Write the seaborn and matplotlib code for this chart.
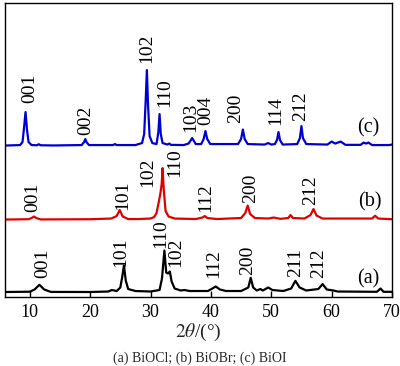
import numpy as np
import pandas as pd
import matplotlib
matplotlib.use("Agg")
import matplotlib.pyplot as plt
import seaborn as sns

# --- XRD patterns (2theta in deg, intensity in a.u. above each baseline) ---
a_2theta = [5.9, 10.0, 10.8, 11.6, 12.4, 13.5, 20.0, 23.0, 23.6, 24.4, 25.0, 25.3, 25.6, 25.9, 26.3,
            27.5, 30.0, 31.5, 31.9, 32.3, 32.6, 32.9, 33.2, 33.5, 34.0, 35.0, 35.6, 36.5, 39.5, 40.1,
            40.8, 41.5, 42.5, 45.0, 46.2, 46.6, 47.0, 47.6, 48.2, 48.6, 49.5, 50.2, 52.0, 53.3, 54.0,
            54.7, 55.8, 57.8, 58.5, 59.2, 60.3, 61.0, 67.5, 68.1, 68.6, 70.0]
a_int = [0.5, 0.8, 3, 7.7, 3, 0.6, 0.5, 1, 2.5, 1.5, 5, 15, 27, 12, 3.5,
         1.5, 1, 2.5, 14, 42, 20, 19, 21, 11, 4, 2, 2.5, 1.5, 1.5, 3.5,
         6, 3, 1.5, 1.5, 5, 14.7, 5, 2, 3.5, 2, 5, 2.5, 1.5, 4, 11.7,
         5, 2, 3.5, 8.4, 3, 2, 1, 0.7, 4, 0.7, 0.7]

b_2theta = [5.9, 9.8, 10.3, 10.7, 11.1, 11.8, 20.0, 23.5, 24.4, 24.9, 25.4, 26.3, 28.0, 30.0, 30.6,
            31.0, 31.4, 31.65, 31.85, 32.0, 32.2, 32.5, 33.0, 34.0, 37.5, 38.6, 39.0, 39.4, 41.0, 45.0,
            45.7, 46.1, 46.5, 47.3, 49.5, 50.4, 51.5, 52.8, 53.2, 53.6, 55.5, 56.5, 57.0, 57.5, 58.5,
            66.7, 67.2, 67.7, 70.0]
b_int = [0.5, 0.8, 2, 3.5, 2, 0.6, 0.8, 1.5, 4, 10, 3.5, 1, 1, 1.5, 3,
         7, 19, 27, 36, 52, 30, 9, 3.5, 1.5, 1, 2.5, 4, 2, 1, 2,
         7, 14.5, 6, 2, 1.5, 2.5, 1.2, 2, 5, 2, 1.5, 5, 11, 4.5, 1.5,
         1.5, 4.3, 1.5, 0.8]

c_2theta = [5.9, 8.4, 8.8, 9.05, 9.3, 9.55, 9.8, 10.3, 11.2, 11.5, 11.8, 14.0, 18.6, 19.0, 19.2,
            19.4, 19.8, 23.8, 24.1, 24.4, 27.5, 28.6, 28.95, 29.2, 29.4, 29.6, 29.85, 30.3, 31.0, 31.3,
            31.5, 31.7, 32.0, 32.8, 33.1, 33.4, 35.5, 36.3, 36.7, 36.9, 37.1, 37.5, 38.4, 38.8, 39.1,
            39.4, 39.9, 44.5, 45.0, 45.3, 45.6, 46.1, 48.9, 49.5, 50.0, 50.6, 50.95, 51.2, 51.45, 51.9,
            54.3, 54.75, 55.0, 55.25, 55.8, 59.3, 60.0, 60.6, 61.5, 62.3, 64.8, 65.3, 65.7, 66.1, 66.7,
            69.5, 70.0]
c_int = [0.5, 1, 4, 18, 34, 16, 4, 1, 0.8, 1.8, 0.8, 0.6, 1, 4, 7,
         4, 1, 1, 2, 1, 1, 3, 12, 45, 76, 40, 10, 3, 2, 14,
         32, 12, 3, 1.5, 2.5, 1.2, 1, 2.5, 6, 8, 6, 2, 2, 7, 15,
         7, 2, 2, 7, 16.5, 7, 2, 1.5, 3, 1.5, 2, 6, 14, 6, 1.5,
         2, 8, 20, 8, 2, 1.5, 4.5, 2.5, 4.5, 1.2, 1.2, 3.5, 2.5, 3.5, 1,
         1, 1.5]

samples = ["(a)", "(b)", "(c)"]
offsets = [4.5, 77, 151]
colors = ["black", "#e00000", "#0000d0"]

# hkl labels: (text, 2theta, height) for each sample
a_labels = [("001", 12.19, 19), ("101", 25.13, 30), ("110", 31.62, 49), ("102", 34.2, 30),
            ("112", 40.53, 19), ("200", 46.11, 22), ("211", 54.0, 20), ("212", 57.85, 19)]
b_labels = [("001", 10.54, 85), ("101", 25.4, 87), ("102", 29.47, 110), ("110", 33.93, 120),
            ("112", 39.13, 85), ("200", 46.58, 94), ("212", 56.47, 92)]
c_labels = [("001", 10.0, 194), ("002", 19.24, 162), ("102", 29.42, 234), ("110", 32.39, 190),
            ("103", 36.65, 165), ("004", 39.16, 172), ("200", 44.1, 174), ("114", 50.7, 172),
            ("212", 54.83, 176)]
tag_pos = [(66.1, 18), (66.27, 95), (66.1, 169)]

# --- long-form table ---
frames = []
for name, tt, ii, off in zip(samples, [a_2theta, b_2theta, c_2theta], [a_int, b_int, c_int], offsets):
    frames.append(pd.DataFrame({"2theta": tt, "I": np.array(ii) + off, "sample": name}))
df = pd.concat(frames, ignore_index=True)

sns.set_theme(style="ticks")
plt.rcParams["font.family"] = ["Liberation Serif", "DejaVu Serif"]
plt.rcParams["mathtext.fontset"] = "stix"

fig = plt.figure(figsize=(4.0, 3.66), dpi=100)
ax = fig.add_axes([0.0125, 0.1885, 0.9675, 0.803])

sns.lineplot(data=df, x="2theta", y="I", hue="sample", palette=dict(zip(samples, colors)),
             estimator=None, sort=False, lw=1.6, legend=False, ax=ax)

for labels in [a_labels, b_labels, c_labels]:
    for txt, x, y in labels:
        ax.text(x, y, txt, rotation=90, ha="center", va="bottom", fontsize=14, color="black")
for name, (x, y) in zip(samples, tag_pos):
    ax.text(x, y, name, ha="center", va="center", fontsize=14.5, color="black")

ax.set_xlim(5.9, 70)
ax.set_ylim(0, 294)
ax.set_xticks([10, 20, 30, 40, 50, 60, 70])
ax.set_yticks([])
ax.tick_params(axis="x", direction="in", length=4, width=1, labelsize=13, pad=5, colors="black")
for s in ax.spines.values():
    s.set_color("black")
    s.set_linewidth(1)
ax.set_xlabel(r"$2\theta$/(°)", fontsize=14, labelpad=1)
ax.set_ylabel("")

fig.text(0.5, 0.022, "(a) BiOCl; (b) BiOBr; (c) BiOI", ha="center", va="center", fontsize=10)

fig.savefig("out.png", dpi=100)
